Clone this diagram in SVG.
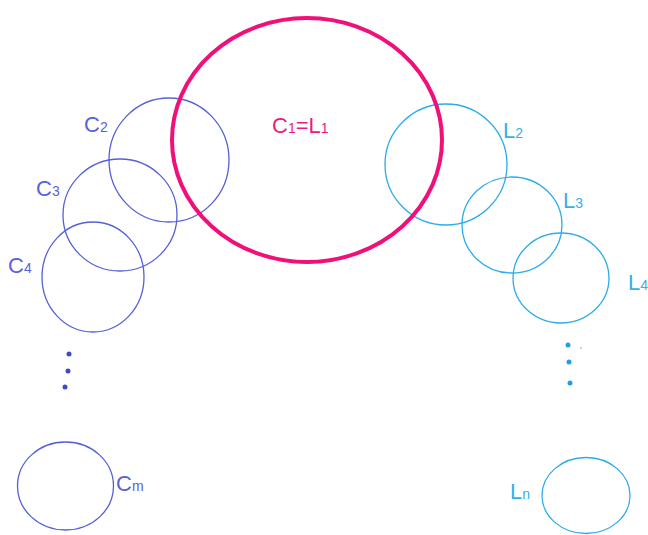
<svg xmlns="http://www.w3.org/2000/svg" width="648" height="535" viewBox="0 0 648 535">
<style>
.c{fill:none;stroke:#5560d6;stroke-width:1.3}
.l{fill:none;stroke:#2cacea;stroke-width:1.3}
.tc{fill:#5a62da;font-family:"Liberation Sans",Arial,sans-serif;font-size:22px}
.tl{fill:#35b0ea;font-family:"Liberation Sans",Arial,sans-serif;font-size:22px}
.tp{fill:#ee1a82;font-family:"Liberation Sans",Arial,sans-serif;font-size:22px}
.s{font-size:14px}
</style>
<rect width="648" height="535" fill="#fff"/>
<g id="C2"><ellipse class="c" cx="169" cy="160" rx="60" ry="62"/><text class="tc" x="84" y="132">C<tspan class="s">2</tspan></text></g>
<g id="C3"><ellipse class="c" cx="120" cy="215" rx="57" ry="56"/><text class="tc" x="36" y="196">C<tspan class="s">3</tspan></text></g>
<g id="C4"><ellipse class="c" cx="93" cy="277" rx="51" ry="55"/><text class="tc" x="8" y="273">C<tspan class="s">4</tspan></text></g>
<g id="Cm"><ellipse class="c" cx="65.5" cy="486" rx="48" ry="44"/><text class="tc" x="116" y="491">C<tspan class="s">m</tspan></text></g>
<g id="cdots" fill="#4048c8"><circle cx="69" cy="354" r="2.5"/><circle cx="68" cy="371" r="2.5"/><circle cx="65" cy="387" r="2.5"/></g>
<g id="L2"><ellipse class="l" cx="446" cy="164.5" rx="61" ry="60.5"/><text class="tl" x="503" y="138">L<tspan class="s">2</tspan></text></g>
<g id="L3"><ellipse class="l" cx="512" cy="225" rx="50" ry="48"/><text class="tl" x="563" y="208">L<tspan class="s">3</tspan></text></g>
<g id="L4"><ellipse class="l" cx="561" cy="278" rx="48" ry="45"/><text class="tl" x="628" y="290">L<tspan class="s">4</tspan></text></g>
<g id="Ln"><ellipse class="l" cx="586" cy="495.5" rx="44" ry="38"/><text class="tl" x="510" y="499">L<tspan class="s">n</tspan></text></g>
<g id="ldots" fill="#1ea0e8"><circle cx="568" cy="345" r="2.5"/><circle cx="569" cy="362" r="2.5"/><circle cx="570" cy="383" r="2.5"/><circle cx="581" cy="348" r="0.7"/></g>
<g id="C1L1"><ellipse cx="307" cy="140" rx="135" ry="122" fill="none" stroke="#f0107a" stroke-width="4"/><text class="tp" x="272" y="133">C<tspan class="s">1</tspan>=L<tspan class="s">1</tspan></text></g>
<g id="connectors"/>
</svg>
